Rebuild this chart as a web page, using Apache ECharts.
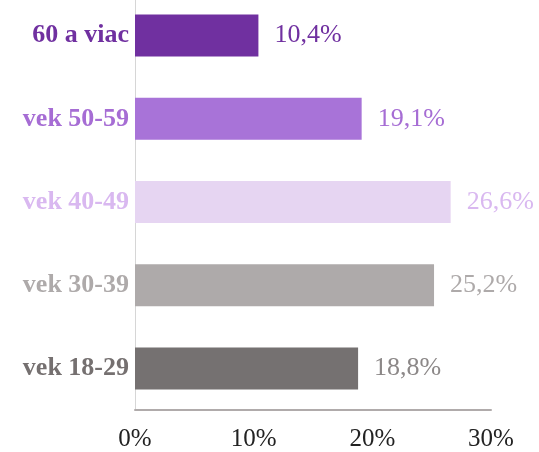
<!DOCTYPE html>
<html>
<head>
<meta charset="utf-8">
<style>
    html, body { margin: 0; padding: 0; background: #fff; overflow: hidden; }
    #main { position: absolute; left: 0; top: -6px; width: 539px; height: 458px; }
</style>
</head>
<body>
<div id="main"></div>
<script src="https://cdn.jsdelivr.net/npm/echarts@6/dist/echarts.min.js"></script>
<script type="text/javascript">
    // kategorie odspodu nahor
    var categories = ['vek 18-29', 'vek 30-39', 'vek 40-49', 'vek 50-59', '60 a viac'];
    var values = [18.8, 25.2, 26.6, 19.1, 10.4];
    var xTicks = [0, 10, 20, 30];

    var barColors = ['#757171', '#aeaaaa', '#e6d5f2', '#a873d8', '#7030a0'];
    var labelColors = ['#8c8888', '#aeaaaa', '#d9b8f0', '#a66dd4', '#7030a0'];
    var catColors = ['#757070', '#aeaaaa', '#d9b8f0', '#a66dd4', '#7030a0'];

    var myChart = echarts.init(document.getElementById('main'));

    var data = values.map(function (v, i) {
        return {
            value: v,
            itemStyle: { color: barColors[i] },
            label: { color: labelColors[i] }
        };
    });

    var option = {
        animation: false,
        textStyle: { fontFamily: '"Liberation Serif", "DejaVu Serif", serif' },
        grid: {
            left: 135,
            right: 48,
            top: 0,
            bottom: 41,
            containLabel: false
        },
        xAxis: {
            type: 'value',
            min: xTicks[0],
            max: xTicks[xTicks.length - 1],
            interval: 10,
            axisLine: { show: true, lineStyle: { color: '#b0abab', width: 2 } },
            axisTick: { show: false },
            splitLine: { show: false },
            axisLabel: {
                margin: 17,
                fontSize: 25,
                color: '#222',
                fontFamily: '"Liberation Serif", serif',
                formatter: function (v) { return v + '%'; }
            }
        },
        yAxis: {
            type: 'category',
            data: categories,
            axisLine: { show: true, lineStyle: { color: '#d6d6d6', width: 1 } },
            axisTick: { show: false },
            axisLabel: {
                margin: 6,
                fontSize: 26,
                fontWeight: 'bold',
                fontFamily: '"Liberation Serif", serif',
                color: function (value, index) {
                    return catColors[categories.indexOf(value)];
                }
            }
        },
        series: [{
            type: 'bar',
            barWidth: 42,
            data: data,
            label: {
                show: true,
                position: 'right',
                distance: 16,
                fontSize: 26,
                fontFamily: '"Liberation Serif", serif',
                formatter: function (p) {
                    return p.value.toFixed(1).replace('.', ',') + '%';
                }
            }
        }]
    };

    myChart.setOption(option);
</script>
</body>
</html>
